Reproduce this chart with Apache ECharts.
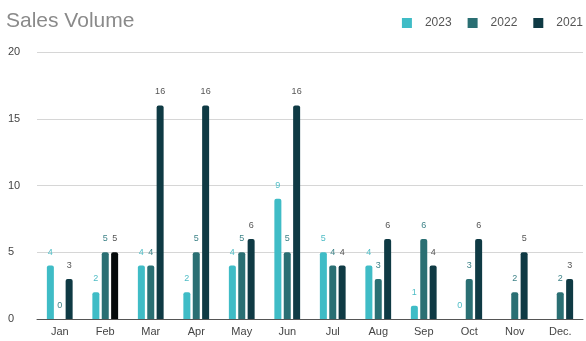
<!DOCTYPE html>
<html><head><meta charset="utf-8">
<script src="https://cdn.jsdelivr.net/npm/echarts@6/dist/echarts.min.js"></script>
<style>html,body{margin:0;padding:0;background:#fff}#c{width:586px;height:341px}</style>
</head><body><div id="c"></div>
<script>
const months = ['Jan','Feb','Mar','Apr','May','Jun','Jul','Aug','Sep','Oct','Nov','Dec.'];
const s2023 = [4,2,4,2,4,9,5,4,1,0,null,null];
const s2022 = [0,5,4,5,5,5,4,3,6,3,2,2];
const s2021 = [3,5,16,16,6,16,4,6,4,6,5,3];
const yTicks = [0,5,10,15,20];

const c23='#3fbcc6', c22='#2a6f73', c21='#0f3a44';
function mk(name, data, color, labColor){
  return {name, type:'bar', data: data.map((v,i)=> (name==='2021'&&i===1)?{value:v,itemStyle:{color:'#050a0b'}}:v),
    barWidth:7, barGap:'34%',
    itemStyle:{color, borderRadius:[2,2,0,0]},
    label:{show:true, position:'top', distance:9, fontSize:9, color:labColor, fontFamily:'Liberation Sans'}};
}
const chart = echarts.init(document.getElementById('c'));
chart.setOption({
  animation:false,
  title:{text:'Sales Volume', left:1, top:6, textStyle:{fontSize:21, fontWeight:'normal', color:'#8a8a8a', fontFamily:'Liberation Sans'}},
  legend:{right:3, top:17, padding:0, itemWidth:10, itemHeight:10, itemGap:16, icon:'rect',
    textStyle:{fontSize:12, color:'#555', fontFamily:'Liberation Sans', padding:[0,0,0,8]}},
  grid:{left:37, right:3, top:52, bottom:22},
  xAxis:{type:'category', data:months, axisTick:{show:false},
    axisLine:{lineStyle:{color:'#555', width:1}},
    axisLabel:{fontSize:11, color:'#444', margin:7, fontFamily:'Liberation Sans'}},
  yAxis:{type:'value', min:0, max:20, interval:5,
    axisLabel:{fontSize:11, color:'#444', margin:29, align:'left', fontFamily:'Liberation Sans',
      formatter:v=>yTicks.includes(v)?String(v):''},
    splitLine:{lineStyle:{color:'#d6d6d6'}}},
  series:[mk('2023',s2023,c23,'#4fbdc6'), mk('2022',s2022,c22,'#3e8388'), mk('2021',s2021,c21,'#555')]
});
</script></body></html>
